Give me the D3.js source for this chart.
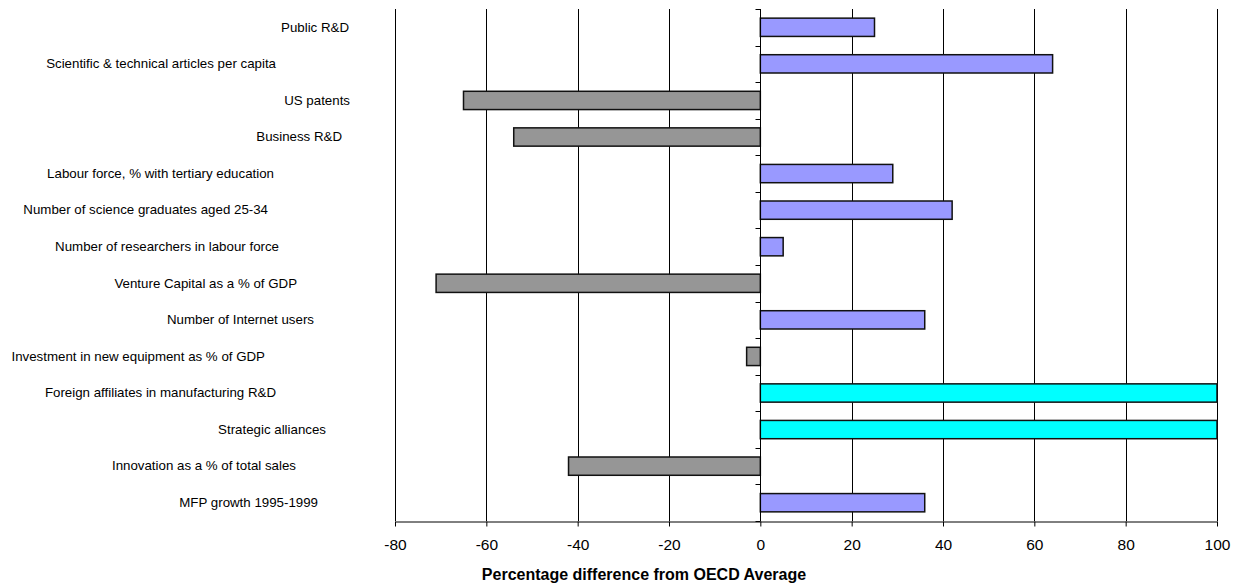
<!DOCTYPE html>
<html>
<head>
<meta charset="utf-8">
<script src="https://cdn.jsdelivr.net/npm/d3@7/dist/d3.min.js"></script>
<style>
  html, body { margin: 0; padding: 0; background: #fff; }
  svg { display: block; font-family: Arial, "Liberation Sans", sans-serif; }
</style>
</head>
<body>
<svg id="chart" width="1233" height="586"></svg>
<script>
// Indicators, top to bottom
const categories = [
  "Public R&D",
  "Scientific & technical articles per capita",
  "US patents",
  "Business R&D",
  "Labour force, % with tertiary education",
  "Number of science graduates aged 25-34",
  "Number of researchers in labour force",
  "Venture Capital as a % of GDP",
  "Number of Internet users",
  "Investment in new equipment as % of GDP",
  "Foreign affiliates in manufacturing R&D",
  "Strategic alliances",
  "Innovation as a % of total sales",
  "MFP growth 1995-1999"
];

// Percentage difference from the OECD average
const values = [25, 64, -65, -54, 29, 42, 5, -71, 36, -3, 100, 100, -42, 36];

// Bar group: above average, below average, off the scale
const groups = ["above", "above", "below", "below", "above", "above", "above",
                "below", "above", "below", "offscale", "offscale", "below", "above"];

const xTicks = [-80, -60, -40, -20, 0, 20, 40, 60, 80, 100];
const xTitle = "Percentage difference from OECD Average";

// ---- layout ----
const plot = { left: 395, right: 1217, top: 9, bottom: 521 };
const labelRight = 350;
// horizontal nudge of each category label relative to labelRight
const labelShift = [-1, -74, 0, -8, -76, -82, -71, -53, -36, -85, -74, -24, -54, -32];

const colour = d3.scaleOrdinal()
  .domain(["above", "below", "offscale"])
  .range(["#9999FF", "#969696", "#00FFFF"]);

const svg = d3.select("#chart");

const x = d3.scaleLinear().domain([-80, 100]).range([plot.left, plot.right]);
const yCat = d3.scaleBand().domain(categories).range([plot.top, plot.bottom]);
const yBar = d3.scaleBand().domain(categories).range([plot.top, plot.bottom])
  .paddingInner(0.5).paddingOuter(0.25);

// vertical gridlines
svg.append("g")
  .selectAll("line")
  .data(xTicks)
  .join("line")
  .attr("x1", d => Math.round(x(d)) + 0.5)
  .attr("x2", d => Math.round(x(d)) + 0.5)
  .attr("y1", plot.top)
  .attr("y2", plot.bottom)
  .attr("stroke", "#000")
  .attr("stroke-width", 1);

// bars
svg.append("g")
  .selectAll("rect")
  .data(categories)
  .join("rect")
  .attr("x", (d, i) => x(Math.min(0, values[i])))
  .attr("y", d => yBar(d))
  .attr("width", (d, i) => Math.abs(x(values[i]) - x(0)))
  .attr("height", yBar.bandwidth())
  .attr("fill", (d, i) => colour(groups[i]))
  .attr("stroke", "#111")
  .attr("stroke-width", 1.5);

// x axis
const xAxis = svg.append("g")
  .attr("transform", `translate(0,${plot.bottom + 0.5})`)
  .call(d3.axisBottom(x)
    .tickValues(xTicks)
    .tickFormat(d3.format("d"))
    .tickSize(5)
    .tickSizeOuter(0)
    .tickPadding(12));
xAxis.select(".domain").attr("stroke", "#000");
xAxis.selectAll(".tick line").attr("stroke", "#000");
xAxis.selectAll("text")
  .attr("font-size", "15.5px")
  .attr("font-family", "Arial, 'Liberation Sans', sans-serif")
  .attr("fill", "#000")
  .text(d => d < 0 ? "-" + Math.abs(d) : d);

// y axis line at zero with ticks on category boundaries
const zx = Math.round(x(0)) + 0.5;
svg.append("line")
  .attr("x1", zx).attr("x2", zx)
  .attr("y1", plot.top).attr("y2", plot.bottom)
  .attr("stroke", "#000");
const boundaries = categories.map(c => yCat(c)).concat([plot.bottom]);
svg.append("g")
  .selectAll("line")
  .data(boundaries)
  .join("line")
  .attr("x1", zx - 5).attr("x2", zx)
  .attr("y1", d => Math.round(d) + 0.5)
  .attr("y2", d => Math.round(d) + 0.5)
  .attr("stroke", "#000");

// category labels
const yAxis = svg.append("g")
  .attr("transform", `translate(${labelRight},0)`)
  .call(d3.axisLeft(yCat).tickSize(0).tickPadding(0));
yAxis.select(".domain").remove();
yAxis.selectAll("text")
  .attr("font-size", "13.3px")
  .attr("font-family", "Arial, 'Liberation Sans', sans-serif")
  .attr("fill", "#000")
  .attr("dx", d => labelShift[categories.indexOf(d)]);

// axis title
svg.append("text")
  .attr("x", 644)
  .attr("y", 580)
  .attr("text-anchor", "middle")
  .attr("font-size", "16px")
  .attr("font-weight", "bold")
  .attr("fill", "#000")
  .text(xTitle);
</script>
</body>
</html>
